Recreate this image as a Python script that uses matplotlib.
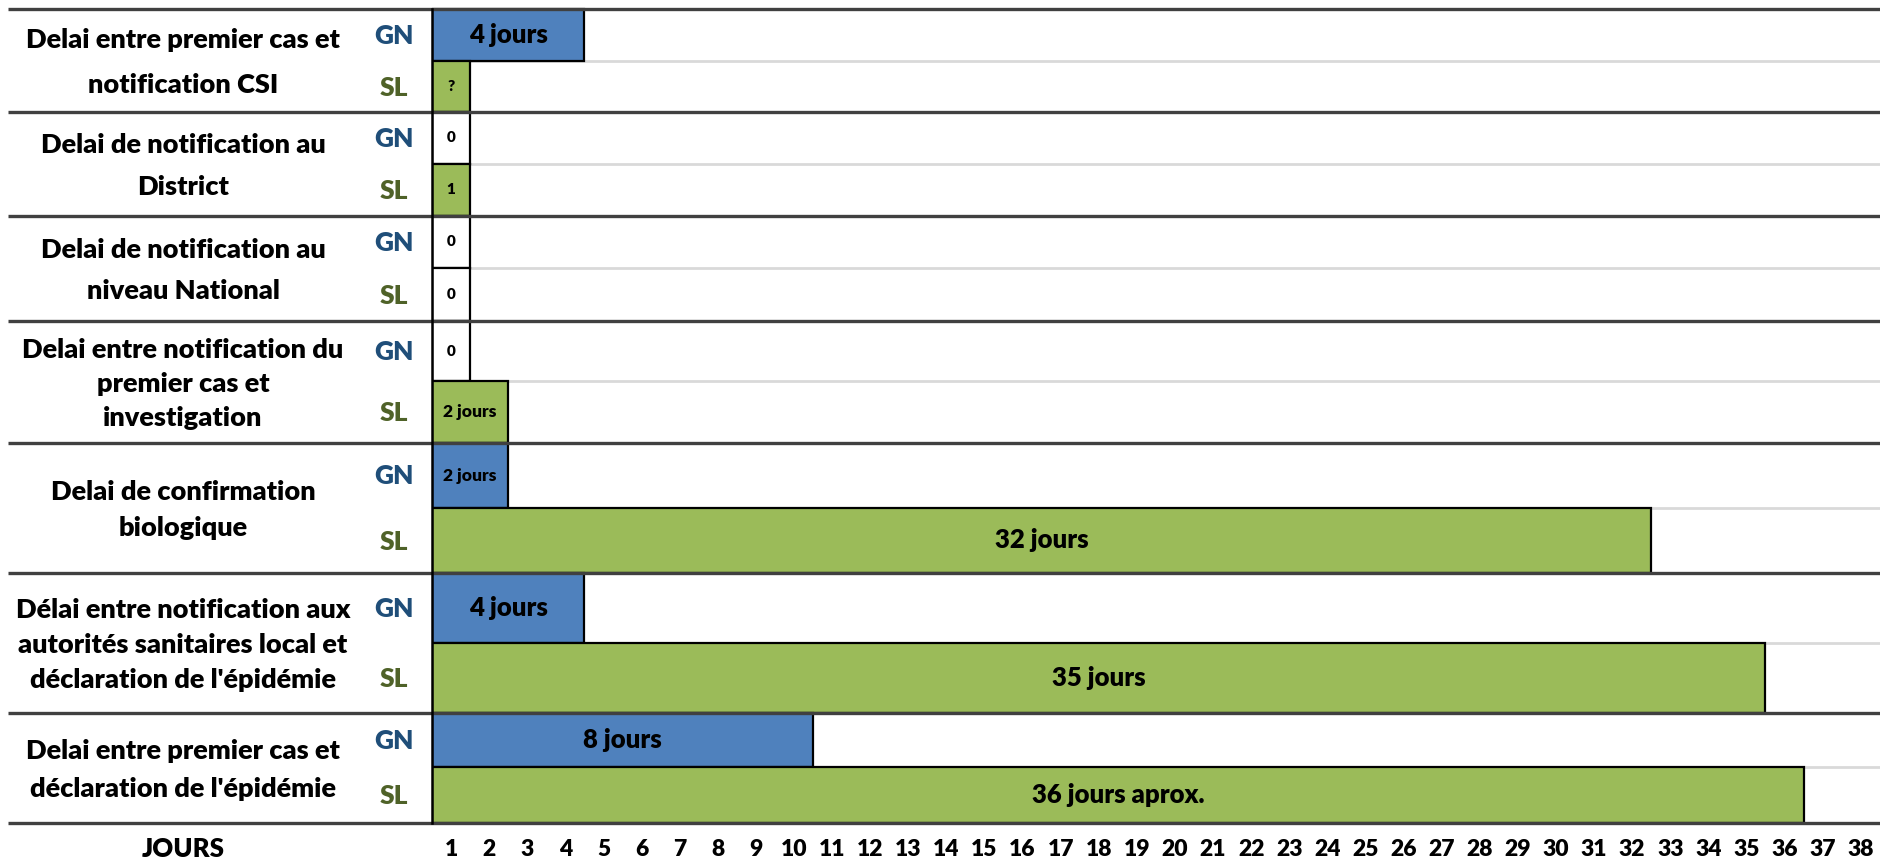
import matplotlib
matplotlib.use("Agg")
import matplotlib.pyplot as plt

# ---------------- data ----------------
categories = [
    "Delai entre premier cas et\nnotification CSI",
    "Delai de notification au\nDistrict",
    "Delai de notification au\nniveau National",
    "Delai entre notification du\npremier cas et\ninvestigation",
    "Delai de confirmation\nbiologique",
    "Délai entre notification aux\nautorités sanitaires local et\ndéclaration de l'épidémie",
    "Delai entre premier cas et\ndéclaration de l'épidémie",
]
series_names = ["GN", "SL"]
gn_days = [4, 0, 0, 0, 2, 4, 10]
sl_days = [None, 1, 0, 2, 32, 35, 36]
gn_labels = ["4 jours", "0", "0", "0", "2 jours", "4 jours", "8 jours"]
sl_labels = ["?", "1", "0", "2 jours", "32 jours", "35 jours", "36 jours aprox."]
day_ticks = list(range(1, 39))
x_title = "JOURS"

# ---------------- style / layout ----------------
W, H = 1881, 865
DPI = 100
FONT = "Lato"
WEIGHT = "heavy"
BLUE = "#4F81BD"
GREEN = "#9BBB59"
GN_TXT = "#1F4E79"
SL_TXT = "#4F6228"
SEP = "#404040"
SPLIT = "#D9D9D9"

group_tops = [9, 112, 216, 321, 443, 573, 713]
splits = [61, 164, 268, 381, 508, 643, 767]
bottom = 823
bar_left_px = 432
day_px = 38.1
label_linespacing = [2.02, 1.86, 1.82, 1.5, 1.62, 1.53, 1.67]

fig = plt.figure(figsize=(W / DPI, H / DPI), dpi=DPI)

bx = fig.add_axes([bar_left_px / W, 0, (W - bar_left_px) / W, 1])
bx.set_xlim(0.5, 0.5 + (W - bar_left_px) / day_px)
bx.set_ylim(H, 0)
bx.axis("off")

lx = fig.add_axes([0, 0, 1, 1], zorder=3)
lx.set_xlim(0, W)
lx.set_ylim(H, 0)
lx.axis("off")
lx.patch.set_alpha(0)

group_bottoms = group_tops[1:] + [bottom]

for i in range(len(categories)):
    top, mid, bot = group_tops[i], splits[i], group_bottoms[i]
    bx.plot([0.5, 40], [mid, mid], color=SPLIT, lw=2.0, zorder=1, solid_capstyle="butt")
    rows = [
        (gn_days[i], gn_labels[i], BLUE, top, mid, "GN", GN_TXT),
        (sl_days[i], sl_labels[i], GREEN, mid, bot, "SL", SL_TXT),
    ]
    for val, lab, col, y0, y1, name, tcol in rows:
        w = 1 if (val is None or val == 0) else val
        fc = "white" if val == 0 else col
        bx.barh((y0 + y1) / 2, w, left=0.5, height=(y1 - y0), color=fc,
                edgecolor="black", linewidth=1.6, zorder=2)
        if w <= 1:
            fs = 11
        elif w == 2:
            fs = 12.5
        else:
            fs = 18.5
        bx.text(0.5 + w / 2, (y0 + y1) / 2, lab, ha="center", va="center",
                fontsize=fs, fontweight=WEIGHT, family=FONT, color="black", zorder=4)
        lx.text(394, (y0 + y1) / 2 + 1, name, ha="center", va="center",
                fontsize=19, fontweight=WEIGHT, family=FONT, color=tcol)
    lx.text(183, (top + bot) / 2 + 2, categories[i], ha="center", va="center",
            fontsize=19.5, fontweight=WEIGHT, family=FONT, color="black",
            linespacing=label_linespacing[i])

for y in group_tops + [bottom]:
    lx.plot([8, W], [y, y], color=SEP, lw=2.4, solid_capstyle="butt", zorder=3)
lx.plot([bar_left_px, bar_left_px], [group_tops[0], bottom], color="black", lw=1.8, zorder=4)

for d in day_ticks:
    bx.text(d, 849, str(d), ha="center", va="center", fontsize=16.5,
            fontweight=WEIGHT, family=FONT, color="black")
lx.text(183, 849, x_title, ha="center", va="center", fontsize=18.5,
        fontweight=WEIGHT, family=FONT, color="black")

fig.savefig("out.png", dpi=DPI)
